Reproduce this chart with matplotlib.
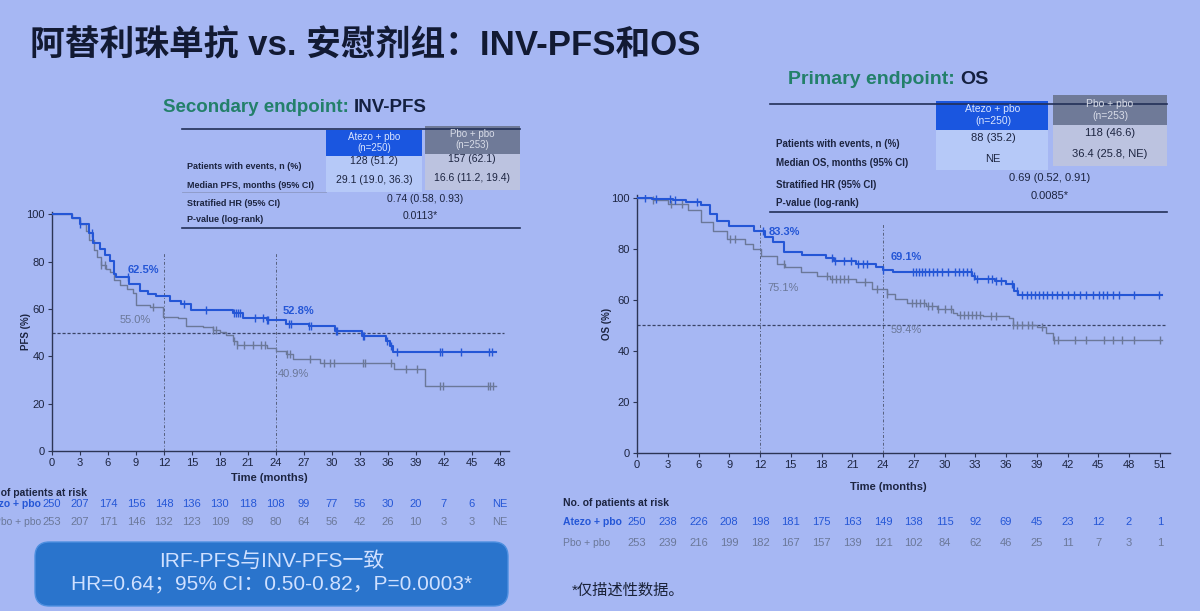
import numpy as np
import matplotlib
matplotlib.use('Agg')
import matplotlib.pyplot as plt
import matplotlib.transforms as mtransforms
from matplotlib.patches import Rectangle, FancyBboxPatch
from matplotlib.lines import Line2D

plt.rcParams['font.family'] = ['Liberation Sans', 'Noto Sans CJK SC']

W, H = 1200, 611
BG = '#a6b7f3'
BLUE = '#2456d6'
GREY = '#6b7899'
INK = '#1c2440'
GREEN = '#23806a'

# ---- INV-PFS ----
pfsAtezoT = [0, 2.1, 3.0, 4.0, 4.4, 5.1, 5.7, 6.2, 6.7, 6.9, 8.3, 9.4, 10.3, 11.2, 12.6, 13.8, 14.9, 19.4, 20.5, 23.0, 25.1, 27.6, 30.3, 33.2, 35.8, 36.2, 36.6, 47.6]
pfsAtezoS = [100, 98.5, 96, 92, 88, 85.5, 83, 80.5, 75, 73.5, 70.5, 67.5, 66.2, 65.3, 63.5, 62.2, 59.5, 58.2, 56.2, 55.3, 53.7, 52.8, 50.6, 48.5, 46.4, 44.3, 42.0, 42.0]
pfsAtezoCens = [3.0, 4.3, 8.2, 14.1, 16.5, 19.5, 19.7, 19.9, 20.2, 21.8, 22.6, 23.0, 23.2, 25.4, 25.6, 27.6, 27.8,
                30.4, 30.6, 33.3, 33.5, 35.9, 36.4, 37.0, 41.6, 41.8, 43.8, 46.9, 47.2]

pfsPboT = [0, 2.1, 3.0, 3.6, 4.0, 4.5, 4.8, 5.3, 5.8, 6.2, 6.7, 7.3, 8.0, 8.7, 9.0, 10.5, 11.9, 13.5, 14.4, 16.2, 17.3, 18.0, 18.7, 19.4, 19.8, 23.0, 24.0, 25.1, 25.8, 28.7, 36.7, 40.0, 47.6]
pfsPboS = [100, 98.5, 96, 93, 89, 85, 82, 78.6, 77, 75.8, 72.3, 70.2, 68.5, 66.7, 61.8, 60.7, 56.5, 56.0, 52.7, 52.3, 51.3, 50.2, 49.2, 46.4, 45.0, 43.6, 42.2, 40.8, 38.7, 37.0, 34.5, 27.6, 27.6]
pfsPboCens = [5.3, 5.7, 10.8, 17.3, 17.6, 19.5, 19.8, 20.6, 21.5, 22.4, 22.8, 25.2, 25.5, 27.7, 29.2, 29.8, 30.2,
              33.3, 33.6, 36.3, 38.0, 39.1, 41.6, 41.9, 46.7, 47.0, 47.3]

pfsTicks = list(range(0, 49, 3))
pfsRiskAtezo = ['250', '207', '174', '156', '148', '136', '130', '118', '108', '99', '77', '56', '30', '20', '7', '6', 'NE']
pfsRiskPbo = ['253', '207', '171', '146', '132', '123', '109', '89', '80', '64', '56', '42', '26', '10', '3', '3', 'NE']

# ---- OS ----
osAtezoT = [0, 1.5, 3.5, 4.8, 6.2, 7.1, 7.8, 9.0, 11.4, 12.5, 13.3, 14.3, 16.1, 18.4, 19.2, 21.4, 23.3, 24.0, 25.0, 32.7, 33.0, 34.9, 36.0, 36.8, 37.2, 51.2]
osAtezoS = [100, 99.6, 99, 98.3, 97, 93.7, 91, 89, 87.1, 84.5, 82.5, 78.6, 77.7, 76.3, 75, 74, 72.9, 71.6, 71.0, 69.4, 68, 67.4, 66, 63.5, 62, 62]
osAtezoCens = [0.8, 1.9, 3.2, 3.7, 5.9, 12.3, 19.0, 19.3, 20.2, 20.9, 21.6, 22.0, 22.4, 24.0, 26.9, 27.2, 27.5, 27.8,
               28.1, 28.5, 28.9, 29.3, 29.8, 30.3, 31.0, 31.4, 31.8, 32.2, 32.6, 32.9, 33.2, 34.2, 34.6, 35.0, 35.5,
               36.6, 37.1, 37.6, 38.0, 38.4, 38.8, 39.2, 39.6, 40.0, 40.5, 41.0, 41.5, 42.0, 42.6, 43.2, 43.8, 44.5,
               45.1, 45.5, 45.9, 46.4, 47.0, 48.5, 50.9]

osPboT = [0, 1.6, 3.0, 5.0, 6.2, 7.4, 8.8, 10.5, 11.3, 12.1, 13.7, 14.4, 16.0, 17.6, 18.8, 21.4, 22.9, 24.4, 25.2, 26.3, 28.2, 29.3, 30.8, 31.2, 33.8, 36.3, 36.7, 39.0, 39.9, 40.6, 51.2]
osPboS = [100, 99.2, 97.6, 95, 90.4, 87.1, 83.8, 81.9, 79.9, 77.3, 74, 72.7, 70.7, 69.4, 68, 66.8, 64.1, 62.2, 60.2, 58.9, 57.6, 56.2, 54.9, 54, 53.6, 53, 50.3, 49.3, 47, 44.2, 44.2]
osPboCens = [1.6, 3.3, 4.4, 9.1, 9.6, 14.3, 18.5, 19.0, 19.4, 19.8, 20.2, 20.6, 22.2, 23.4, 24.4, 26.8, 27.2, 27.6,
             28.0, 28.4, 28.8, 29.4, 30.0, 30.6, 31.5, 31.9, 32.3, 32.7, 33.1, 33.5, 34.5, 35.0, 36.7, 37.1, 37.6,
             38.1, 38.5, 39.5, 40.7, 41.1, 42.7, 43.8, 45.6, 46.4, 47.3, 48.5, 51.0]

osTicks = list(range(0, 52, 3))
osRiskAtezo = ['250', '238', '226', '208', '198', '181', '175', '163', '149', '138', '115', '92', '69', '45', '23', '12', '2', '1']
osRiskPbo = ['253', '239', '216', '199', '182', '167', '157', '139', '121', '102', '84', '62', '46', '25', '11', '7', '3', '1']


fig = plt.figure(figsize=(12, 6.11), dpi=100, facecolor=BG)


def fx(x):
    return x / W


def fy(y):
    return 1 - y / H


def txt(x, y, s, **kw):
    kw.setdefault('color', INK)
    kw.setdefault('va', 'center')
    return fig.text(fx(x), fy(y), s, **kw)


def hline(x0, x1, y, **kw):
    fig.add_artist(Line2D([fx(x0), fx(x1)], [fy(y), fy(y)], **kw))


def cell(x0, y0, x1, y1, color):
    fig.add_artist(Rectangle((fx(x0), fy(y1)), fx(x1) - fx(x0), fy(y0) - fy(y1),
                             facecolor=color, edgecolor='none'))


def stepAt(t, s, c):
    idx = np.searchsorted(np.array(t), np.array(c), side='right') - 1
    return np.array(s)[idx]


def kmAxes(px0, px1, py0, py1, xmax, ticks, ylabel, labelPx):
    ax = fig.add_axes([fx(px0), fy(py1), fx(px1) - fx(px0), fy(py0) - fy(py1)])
    ax.set_facecolor('none')
    ax.set_xlim(0, xmax)
    ax.set_ylim(0, 101)
    for side in ['top', 'right']:
        ax.spines[side].set_visible(False)
    for side in ['left', 'bottom']:
        ax.spines[side].set_color('#2c3555')
        ax.spines[side].set_linewidth(1.0)
    ax.set_xticks(ticks)
    ax.set_yticks([0, 20, 40, 60, 80, 100])
    ax.tick_params(colors='#2c3555', labelcolor=INK, labelsize=8, length=3, width=0.8, pad=2)
    ax.set_ylabel(ylabel, fontsize=7, fontweight='bold', color=INK)
    ax.yaxis.set_label_coords((labelPx - px0) / (px1 - px0), 0.5)
    return ax


def kmCurve(ax, t, s, cens, color, lw):
    ax.step(t, s, where='post', color=color, lw=lw, zorder=3)
    ax.plot(cens, stepAt(t, s, cens), ls='none', marker='|', ms=6, mew=1.0, color=color, zorder=3)


def refLines(ax, xmax, ytop):
    ax.plot([0, xmax], [50, 50], color='#3a4466', lw=0.9, ls=(0, (2.5, 1.5)), zorder=2)
    for m in [12, 24]:
        ax.plot([m, m], [0, ytop], color='#56607e', lw=0.7, ls=(0, (3, 2, 1, 2)), zorder=2)


def riskTable(ax, ticks, atezo, pbo, yHead, yA, yP, yTime, timeX, labelX, labelHa, size):
    tr = mtransforms.blended_transform_factory(ax.transData, fig.transFigure)
    for x, a, p in zip(ticks, atezo, pbo):
        fig.text(x, fy(yA), a, transform=tr, ha='center', va='center', fontsize=size, color=BLUE)
        fig.text(x, fy(yP), p, transform=tr, ha='center', va='center', fontsize=size, color=GREY)
    fig.text(timeX, fy(yTime), 'Time (months)', transform=tr, ha='center', va='center',
             fontsize=8, fontweight='bold', color=INK)
    headX = labelX - 60 if labelHa == 'right' else labelX
    txt(headX, yHead, 'No. of patients at risk', fontsize=7.5, fontweight='bold', ha='left')
    txt(labelX, yA, 'Atezo + pbo', fontsize=7.5, color=BLUE, fontweight='bold', ha=labelHa)
    txt(labelX, yP, 'Pbo + pbo', fontsize=7.5, color=GREY, ha=labelHa)


# title
txt(30, 46, '阿替利珠单抗 vs. 安慰剂组：INV-PFS和OS', fontsize=25, fontweight='bold', color='#121a33', ha='left')

# ---- left panel: INV-PFS ----
t1 = txt(163, 108, 'Secondary endpoint: ', fontsize=13.5, fontweight='bold', color=GREEN, ha='left')
fig.canvas.draw()
bb = t1.get_window_extent()
txt(bb.x1, 108, 'INV-PFS', fontsize=13.5, fontweight='bold', color='#142040', ha='left')

cell(326, 130, 422, 156, '#1a56e0')
cell(425, 126, 520, 154, '#6f7a98')
cell(326, 156, 422, 192, '#b6c9f8')
cell(425, 154, 520, 190, '#bcc3e0')
hline(182, 520, 129, color='#233058', lw=1.2)
hline(182, 520, 228, color='#233058', lw=1.2)
hline(182, 326, 192, color='#8c98c4', lw=0.6)
txt(374, 137, 'Atezo + pbo', fontsize=7, color='#d8e4ff', ha='center')
txt(374, 148, '(n=250)', fontsize=7, color='#d8e4ff', ha='center')
txt(472, 134, 'Pbo + pbo', fontsize=7, color='#d8dce8', ha='center')
txt(472, 145, '(n=253)', fontsize=7, color='#d8dce8', ha='center')
txt(187, 166, 'Patients with events, n (%)', fontsize=6.5, fontweight='bold', ha='left')
txt(187, 185, 'Median PFS, months (95% CI)', fontsize=6.5, fontweight='bold', ha='left')
txt(187, 204, 'Stratified HR (95% CI)', fontsize=6.5, fontweight='bold', ha='left')
txt(187, 220, 'P-value (log-rank)', fontsize=6.5, fontweight='bold', ha='left')
txt(374, 161, '128 (51.2)', fontsize=7.5, ha='center')
txt(472, 159, '157 (62.1)', fontsize=7.5, ha='center')
txt(374, 180, '29.1 (19.0, 36.3)', fontsize=7.5, ha='center')
txt(472, 178, '16.6 (11.2, 19.4)', fontsize=7.5, ha='center')
txt(425, 199, '0.74 (0.58, 0.93)', fontsize=7.5, ha='center')
txt(420, 216, '0.0113*', fontsize=7.5, ha='center')

ax1 = kmAxes(52, 509, 212, 451, 49, pfsTicks, 'PFS (%)', 31)
refLines(ax1, 48.5, 84)
kmCurve(ax1, pfsPboT, pfsPboS, pfsPboCens, GREY, 1.0)
kmCurve(ax1, pfsAtezoT, pfsAtezoS, pfsAtezoCens, BLUE, 1.5)
ax1.text(9.8, 76.5, '62.5%', color=BLUE, fontsize=8, fontweight='bold', ha='center', va='center')
ax1.text(8.9, 55.5, '55.0%', color=GREY, fontsize=8, ha='center', va='center')
ax1.text(26.4, 59.3, '52.8%', color=BLUE, fontsize=8, fontweight='bold', ha='center', va='center')
ax1.text(25.9, 32.4, '40.9%', color=GREY, fontsize=8, ha='center', va='center')
# the slide crops the row labels at its left edge
riskTable(ax1, pfsTicks, pfsRiskAtezo, pfsRiskPbo, 493, 504, 522, 478, 23.3, 41, 'right', 8)

# blue note box
fig.add_artist(FancyBboxPatch((fx(35), fy(606)), fx(508) - fx(35), fy(542) - fy(606),
                              boxstyle='round,pad=0,rounding_size=0.012', facecolor='#2a74cc',
                              edgecolor='#4d8fe0', lw=1.0, mutation_aspect=2.0))
txt(272, 561, 'IRF-PFS与INV-PFS一致', fontsize=15, color='#cfe0ff', ha='center')
txt(272, 584, 'HR=0.64；95% CI：0.50-0.82，P=0.0003*', fontsize=15, color='#cfe0ff', ha='center')

# ---- right panel: OS ----
t2 = txt(788, 80, 'Primary endpoint: ', fontsize=14, fontweight='bold', color=GREEN, ha='left')
fig.canvas.draw()
bb = t2.get_window_extent()
txt(bb.x1, 80, 'OS', fontsize=14, fontweight='bold', color='#142040', ha='left')

cell(936, 101, 1048, 130, '#1a56e0')
cell(1053, 95, 1167, 125, '#6f7a98')
cell(936, 130, 1048, 170, '#b6c9f8')
cell(1053, 125, 1167, 166, '#bcc3e0')
hline(770, 1167, 104, color='#233058', lw=1.2)
hline(770, 1167, 212, color='#233058', lw=1.2)
txt(993, 109, 'Atezo + pbo', fontsize=7.5, color='#d8e4ff', ha='center')
txt(993, 121, '(n=250)', fontsize=7.5, color='#d8e4ff', ha='center')
txt(1110, 104, 'Pbo + pbo', fontsize=7.5, color='#d8dce8', ha='center')
txt(1110, 116, '(n=253)', fontsize=7.5, color='#d8dce8', ha='center')
txt(776, 144, 'Patients with events, n (%)', fontsize=7, fontweight='bold', ha='left')
txt(776, 163, 'Median OS, months (95% CI)', fontsize=7, fontweight='bold', ha='left')
txt(776, 185, 'Stratified HR (95% CI)', fontsize=7, fontweight='bold', ha='left')
txt(776, 203, 'P-value (log-rank)', fontsize=7, fontweight='bold', ha='left')
txt(993, 138, '88 (35.2)', fontsize=8, ha='center')
txt(1110, 133, '118 (46.6)', fontsize=8, ha='center')
txt(993, 159, 'NE', fontsize=8, ha='center')
txt(1110, 154, '36.4 (25.8, NE)', fontsize=8, ha='center')
txt(1050, 178, '0.69 (0.52, 0.91)', fontsize=8, ha='center')
txt(1050, 196, '0.0085*', fontsize=8, ha='center')

ax2 = kmAxes(637, 1170, 195, 453, 52, osTicks, 'OS (%)', 612)
refLines(ax2, 51.5, 90)
kmCurve(ax2, osPboT, osPboS, osPboCens, GREY, 1.0)
kmCurve(ax2, osAtezoT, osAtezoS, osAtezoCens, BLUE, 1.5)
ax2.text(14.4, 86.5, '83.3%', color=BLUE, fontsize=8, fontweight='bold', ha='center', va='center')
ax2.text(14.3, 64.4, '75.1%', color=GREY, fontsize=8, ha='center', va='center')
ax2.text(26.3, 76.9, '69.1%', color=BLUE, fontsize=8, fontweight='bold', ha='center', va='center')
ax2.text(26.3, 48.0, '59.4%', color=GREY, fontsize=8, ha='center', va='center')
riskTable(ax2, osTicks, osRiskAtezo, osRiskPbo, 503, 522, 543, 487, 24.5, 563, 'left', 8)

txt(572, 591, '*仅描述性数据。', fontsize=11, color='#1a2238', ha='left')

fig.savefig('out.png', dpi=100, facecolor=BG)
